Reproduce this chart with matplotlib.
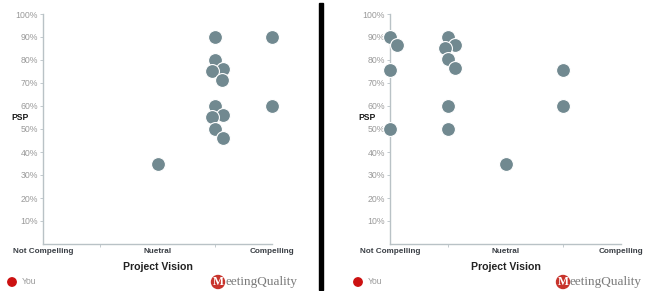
import matplotlib
matplotlib.use("Agg")
import matplotlib.pyplot as plt
from matplotlib.patches import Rectangle, Circle

# ---- data ----
categories = ["Not Compelling", "Nuetral", "Compelling"]
category_pos = [1, 3, 5]
yticks = [10, 20, 30, 40, 50, 60, 70, 80, 90, 100]
ytick_labels = [f"{v}%" for v in yticks]

left_x = [4, 5, 4, 4.14, 3.95, 4.13, 4, 4.14, 3.95, 4, 4.14, 5, 3]
left_y = [90, 90, 80, 76, 75, 71.5, 60, 56, 55, 50, 46, 60, 35]

right_x = [1, 1.12, 1, 1, 2, 2.12, 1.95, 2, 2.12, 2, 2, 4, 4, 3]
right_y = [90, 86.5, 75.5, 50, 90, 86.5, 85, 80.5, 76.5, 60, 50, 75.5, 60, 35]

W, H = 656, 291
fig = plt.figure(figsize=(W / 100, H / 100), dpi=100)
fig.patch.set_facecolor("white")

DOT = "#718990"
AX = "#b9c2c6"
FONT = "Liberation Sans"


def fx(px):
    return px / W


def fy(py):
    return 1 - py / H


def circle_px(cx, cy, r, color):
    # circle in pixel units (square regardless of figure aspect)
    fig.add_artist(Circle((cx / 100, (H - cy) / 100), radius=r / 100,
                          transform=fig.dpi_scale_trans, color=color))


def panel(x0, x1, xs, ys, psp_x, legend_x, logo_x):
    ax = fig.add_axes([fx(x0), fy(244), fx(x1) - fx(x0), fy(14) - fy(244)])
    ax.set_xlim(1, 5)
    ax.set_ylim(0, 100)
    for s in ["top", "right"]:
        ax.spines[s].set_visible(False)
    for s in ["left", "bottom"]:
        ax.spines[s].set_color(AX)
        ax.spines[s].set_linewidth(1.0)
    ax.set_yticks(yticks)
    ax.set_yticklabels(ytick_labels, fontsize=6.3, color="#9a9a9a", family=FONT)
    ax.tick_params(axis="y", length=2, width=0.6, color=AX, pad=1.5)
    ax.set_xticks(category_pos)
    ax.set_xticklabels(categories, fontsize=5.9, color="#3a3f45",
                       family=FONT, fontweight="bold")
    ax.set_xticks([2, 4], minor=True)
    ax.tick_params(axis="x", which="major", length=0, pad=3)
    ax.tick_params(axis="x", which="minor", length=2, width=0.6, color=AX)
    ax.scatter(xs, ys, s=100, color=DOT, edgecolors="white",
               linewidths=0.8, zorder=3, clip_on=False)
    ax.set_facecolor("white")

    xc = (x0 + x1) / 2
    fig.text(fx(xc), fy(267), "Project Vision", ha="center", va="center",
             fontsize=7.6, fontweight="bold", color="#222222", family=FONT)
    fig.text(fx(psp_x), fy(117), "PSP", ha="left", va="center",
             fontsize=6.2, fontweight="bold", color="#1a1a1a", family=FONT)
    # legend
    circle_px(legend_x, 282, 4.2, "#cc1111")
    fig.text(fx(legend_x + 10), fy(282), "You", ha="left", va="center",
             fontsize=6.2, color="#9a9a9a", family=FONT)
    # logo
    circle_px(logo_x, 282, 6.5, "#c8342c")
    fig.text(fx(logo_x), fy(282), "M", ha="center", va="center",
             fontsize=8.5, color="white", family="Liberation Serif",
             fontweight="bold")
    fig.text(fx(logo_x + 7), fy(282.5), "eetingQuality", ha="left",
             va="center", fontsize=9.5, color="#7a7a7a",
             family="Liberation Serif")
    return ax


panel(43, 272, left_x, left_y, psp_x=11, legend_x=12, logo_x=218)
panel(390, 621, right_x, right_y, psp_x=358, legend_x=358, logo_x=563)

# separator bar between the two charts
fig.add_artist(Rectangle((fx(319), fy(290)), 4 / W, 287 / H,
                         transform=fig.transFigure, color="black"))

fig.savefig("out.png", dpi=100, facecolor="white")
